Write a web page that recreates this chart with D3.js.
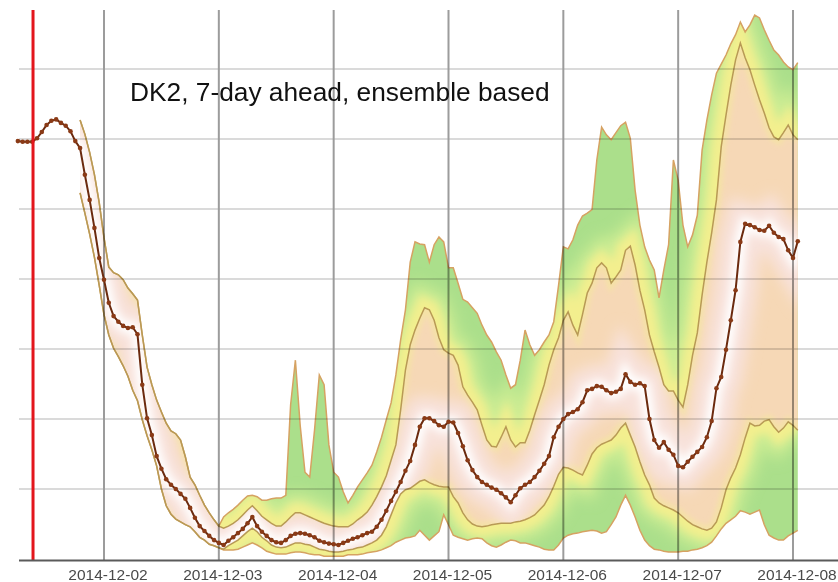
<!DOCTYPE html>
<html>
<head>
<meta charset="utf-8">
<script src="https://cdn.jsdelivr.net/npm/d3@7"></script>
<style>
  html, body { margin: 0; padding: 0; background: #ffffff; }
  svg { display: block; }
  text { font-family: "Liberation Sans", Arial, Helvetica, sans-serif; }
</style>
</head>
<body>
<svg id="chart" width="838" height="582"></svg>
<script>
// ---- Data -------------------------------------------------------------
const chartTitle = "DK2, 7-day ahead, ensemble based";
const xTickLabels = ["2014-12-02", "2014-12-03", "2014-12-04", "2014-12-05",
                     "2014-12-06", "2014-12-07", "2014-12-08"];
const yGridValues = [100, 200, 300, 400, 500, 600, 700];   // MW
const issueTime = "2014-12-01T09:10:00Z";

// Point forecast, hourly from forecastStart (MW)
const forecastStart = "2014-12-01T06:00:00Z";
const forecast = [
  597, 596, 596, 596, 601, 610, 620, 626, 628, 623,
  619, 611, 597, 587, 549, 513, 473, 430, 399, 366,
  347, 339, 333, 330, 331, 321, 249, 201, 177, 147,
  129, 114, 106, 100, 93, 86, 73, 59, 47, 40,
  33, 27, 23, 20, 26, 31, 37, 43, 51, 60,
  47, 39, 33, 27, 24, 23, 27, 33, 36, 37,
  36, 34, 31, 26, 24, 22, 21, 20, 23, 26,
  29, 31, 34, 37, 39, 46, 56, 69, 83, 96,
  110, 126, 140, 163, 189, 201, 201, 197, 191, 189,
  196, 195, 180, 161, 141, 127, 117, 110, 106, 102,
  99, 94, 88, 81, 91, 101, 106, 110, 117, 126,
  136, 147, 174, 189, 200, 207, 210, 214, 224, 241,
  243, 247, 246, 241, 237, 239, 243, 264, 253, 249,
  251, 247, 200, 170, 159, 167, 156, 149, 133, 131,
  139, 146, 153, 160, 174, 197, 244, 260, 299, 341,
  384, 453, 479, 477, 474, 470, 469, 476, 466, 460,
  457, 441, 430, 454
];

// Ensemble quantile envelopes, hourly from bandStart (MW)
const bandStart = "2014-12-01T19:00:00Z";
const outerUpper = [
  627, 607, 581, 549, 509, 459, 417, 409, 406, 399,
  387, 379, 370, 320, 274, 249, 227, 210, 194, 183,
  179, 170, 146, 117, 106, 91, 77, 66, 56, 47,
  60, 66, 71, 77, 84, 90, 91, 89, 84, 84,
  86, 87, 87, 91, 220, 284, 191, 124, 117, 184,
  263, 249, 163, 124, 117, 96, 80, 91, 103, 113,
  123, 134, 153, 174, 199, 223, 263, 313, 356, 424,
  453, 450, 449, 424, 449, 460, 453, 416, 416, 394,
  371, 367, 359, 351, 334, 320, 310, 296, 284, 263,
  244, 249, 284, 327, 306, 291, 299, 310, 320, 339,
  391, 446, 443, 456, 477, 490, 494, 499, 570, 617,
  606, 599, 609, 619, 624, 601, 527, 477, 446, 427,
  413, 373, 413, 449, 570, 541, 477, 446, 463, 491,
  584, 627, 663, 694, 707, 720, 736, 749, 767, 753,
  763, 777, 773, 756, 741, 727, 720, 710, 703, 699, 709
];
const innerUpper = [
  627, 607, 581, 549, 509, 459, 417, 409, 406, 399,
  387, 379, 370, 320, 274, 249, 227, 210, 194, 183,
  179, 170, 146, 117, 106, 91, 77, 66, 56, 47,
  44, 47, 51, 56, 63, 70, 76, 69, 61, 56,
  51, 47, 47, 53, 60, 66, 66, 63, 60, 57,
  54, 51, 49, 47, 46, 46, 46, 50, 56, 61,
  67, 77, 89, 103, 119, 141, 163, 213, 270, 306,
  327, 344, 359, 356, 341, 316, 299, 294, 291, 277,
  246, 234, 224, 213, 191, 170, 161, 160, 174, 189,
  170, 160, 166, 166, 184, 206, 227, 249, 277, 299,
  316, 341, 353, 334, 320, 349, 380, 394, 416, 423,
  416, 394, 403, 413, 441, 447, 420, 384, 356, 320,
  296, 274, 249, 240, 240, 227, 217, 249, 291, 323,
  377, 424, 466, 513, 589, 634, 677, 713, 737, 716,
  699, 677, 656, 637, 616, 603, 599, 609, 620, 606, 599
];
const innerLower = [
  523, 494, 464, 431, 391, 349, 320, 301, 289, 276,
  261, 241, 226, 199, 176, 156, 133, 100, 76, 64,
  57, 53, 49, 46, 39, 31, 27, 21, 19, 16,
  14, 19, 23, 27, 33, 39, 44, 39, 31, 26,
  20, 17, 16, 17, 20, 23, 23, 21, 20, 17,
  14, 13, 11, 10, 10, 11, 13, 14, 16, 17,
  20, 23, 27, 34, 46, 63, 80, 93, 99, 101,
  106, 111, 113, 109, 106, 104, 103, 103, 89, 80,
  66, 56, 50, 47, 46, 47, 49, 50, 51, 51,
  51, 53, 54, 56, 59, 63, 70, 77, 89, 104,
  121, 131, 130, 127, 123, 120, 134, 150, 159, 164,
  167, 170, 177, 187, 194, 177, 160, 139, 120, 106,
  87, 80, 76, 73, 70, 66, 60, 54, 49, 46,
  43, 41, 44, 53, 73, 99, 116, 130, 149, 173,
  194, 190, 191, 197, 199, 189, 181, 187, 196, 191, 184
];
const outerLower = [
  523, 494, 464, 431, 391, 349, 320, 301, 289, 276,
  261, 241, 226, 199, 176, 156, 133, 100, 76, 64,
  57, 53, 49, 46, 39, 31, 27, 21, 19, 16,
  13, 13, 13, 14, 17, 20, 23, 20, 16, 11,
  9, 7, 7, 7, 9, 10, 10, 9, 7, 6,
  6, 4, 4, 4, 4, 4, 6, 6, 6, 7,
  9, 10, 11, 13, 16, 19, 24, 27, 30, 31,
  33, 41, 34, 27, 33, 39, 63, 49, 34, 31,
  29, 27, 29, 30, 29, 23, 19, 17, 20, 24,
  27, 26, 23, 23, 21, 19, 17, 14, 13, 13,
  20, 30, 34, 36, 37, 39, 40, 41, 40, 37,
  39, 49, 60, 77, 91, 77, 60, 41, 27, 19,
  14, 13, 11, 10, 10, 10, 11, 11, 13, 14,
  16, 19, 24, 33, 43, 51, 56, 61, 69, 67,
  64, 67, 70, 49, 34, 30, 27, 27, 33, 37, 41
];

// ---- Layout & scales ---------------------------------------------------
const W = 838, H = 582;
const plot = { left: 19, right: 838, top: 10, bottom: 560 };
const HOUR = 3600 * 1000;

const x = d3.scaleUtc()
  .domain([new Date(xTickLabels[0] + "T00:00:00Z"), new Date(xTickLabels[6] + "T00:00:00Z")])
  .range([104, 793]);
const y = d3.scaleLinear().domain([0, 800]).range([559, -1]);

const toSeries = (start, values) => {
  const t0 = Date.parse(start);
  return values.map((v, i) => ({ t: new Date(t0 + i * HOUR), v }));
};
const fc = toSeries(forecastStart, forecast);
const oU = toSeries(bandStart, outerUpper);
const iU = toSeries(bandStart, innerUpper);
const iL = toSeries(bandStart, innerLower);
const oL = toSeries(bandStart, outerLower);

const line = d3.line().x(d => x(d.t)).y(d => y(d.v));
const ring = (upper, lower) => line(upper.concat(lower.slice().reverse())) + "Z";

const svg = d3.select("#chart");
const defs = svg.append("defs");
function addBlur(id, sd) {
  defs.append("filter").attr("id", id)
    .attr("filterUnits", "userSpaceOnUse")
    .attr("x", 0).attr("y", 0).attr("width", W).attr("height", H)
    .append("feGaussianBlur").attr("stdDeviation", sd);
}
addBlur("blur-wide", 7);
addBlur("blur-mid", 4);
addBlur("blur-small", 2.5);
addBlur("blur-soft", 0.6);
defs.append("clipPath").attr("id", "clip-outer").append("path").attr("d", ring(oU, oL));
defs.append("clipPath").attr("id", "clip-inner").append("path").attr("d", ring(iU, iL));

// ---- Ensemble fan ------------------------------------------------------
const fan = svg.append("g").attr("filter", "url(#blur-soft)");
fan.append("path").attr("d", ring(oU, oL)).attr("fill", "#abdf8b");

// outer quantile band: green fading to yellow towards the inner quantiles
const outerGlow = fan.append("g").attr("clip-path", "url(#clip-outer)");
[iU, iL].forEach(s => outerGlow.append("path").attr("d", line(s))
  .attr("fill", "none").attr("stroke", "#cbec93").attr("stroke-width", 40)
  .attr("filter", "url(#blur-wide)"));
[iU, iL].forEach(s => outerGlow.append("path").attr("d", line(s))
  .attr("fill", "none").attr("stroke", "#f3ef8e").attr("stroke-width", 20)
  .attr("filter", "url(#blur-mid)"));

// inner quantile band: peach fading to pink and white around the forecast
fan.append("path").attr("d", ring(iU, iL)).attr("fill", "#f6d8b6");
const innerGlow = fan.append("g").attr("clip-path", "url(#clip-inner)");
[iU, iL].forEach(s => innerGlow.append("path").attr("d", line(s))
  .attr("fill", "none").attr("stroke", "#f5e2a6").attr("stroke-width", 9)
  .attr("filter", "url(#blur-small)"));
innerGlow.append("path").attr("d", line(fc))
  .attr("fill", "none").attr("stroke", "#f8e2dc").attr("stroke-width", 42)
  .attr("filter", "url(#blur-wide)");
innerGlow.append("path").attr("d", line(fc))
  .attr("fill", "none").attr("stroke", "#ffffff").attr("stroke-width", 12)
  .attr("filter", "url(#blur-mid)");

[oU, oL].forEach(s => fan.append("path").attr("d", line(s))
  .attr("fill", "none").attr("stroke", "#d6a262").attr("stroke-width", 1.5));
[iU, iL].forEach(s => fan.append("path").attr("d", line(s))
  .attr("fill", "none").attr("stroke", "#b89a55").attr("stroke-width", 1.5));

// ---- Grid --------------------------------------------------------------
const grid = svg.append("g").style("mix-blend-mode", "multiply");
grid.selectAll("line.h").data(yGridValues).join("line")
  .attr("x1", plot.left).attr("x2", plot.right)
  .attr("y1", d => y(d)).attr("y2", d => y(d))
  .attr("stroke", "#dadada").attr("stroke-width", 2);
const tickDates = xTickLabels.map(s => new Date(s + "T00:00:00Z"));
grid.selectAll("line.v").data(tickDates).join("line")
  .attr("x1", d => x(d)).attr("x2", d => x(d))
  .attr("y1", plot.top).attr("y2", plot.bottom)
  .attr("stroke", "#9c9c9c").attr("stroke-width", 2);

// ---- Point forecast ----------------------------------------------------
svg.append("path").attr("d", line(fc))
  .attr("fill", "none").attr("stroke", "#6b2a0e").attr("stroke-width", 2);
svg.append("g").selectAll("circle").data(fc).join("circle")
  .attr("cx", d => x(d.t)).attr("cy", d => y(d.v)).attr("r", 2.3)
  .attr("fill", "#8a3a16");

// ---- Issue time marker ---------------------------------------------------
const tNow = new Date(issueTime);
svg.append("line")
  .attr("x1", x(tNow)).attr("x2", x(tNow))
  .attr("y1", plot.top).attr("y2", plot.bottom)
  .attr("stroke", "#e3161c").attr("stroke-width", 3);

// ---- X axis ------------------------------------------------------------
svg.append("line")
  .attr("x1", plot.left).attr("x2", plot.right)
  .attr("y1", 560.5).attr("y2", 560.5)
  .attr("stroke", "#5a5a5a").attr("stroke-width", 2);
svg.append("g").selectAll("text").data(tickDates).join("text")
  .attr("x", d => x(d) + 4).attr("y", 580)
  .attr("text-anchor", "middle")
  .attr("font-size", "15.5px").attr("fill", "#4a4a4a")
  .text((d, i) => xTickLabels[i]);

// ---- Title -------------------------------------------------------------
svg.append("text")
  .attr("x", 130).attr("y", 101)
  .attr("font-size", "26.3px").attr("fill", "#111111")
  .text(chartTitle);
</script>
</body>
</html>
